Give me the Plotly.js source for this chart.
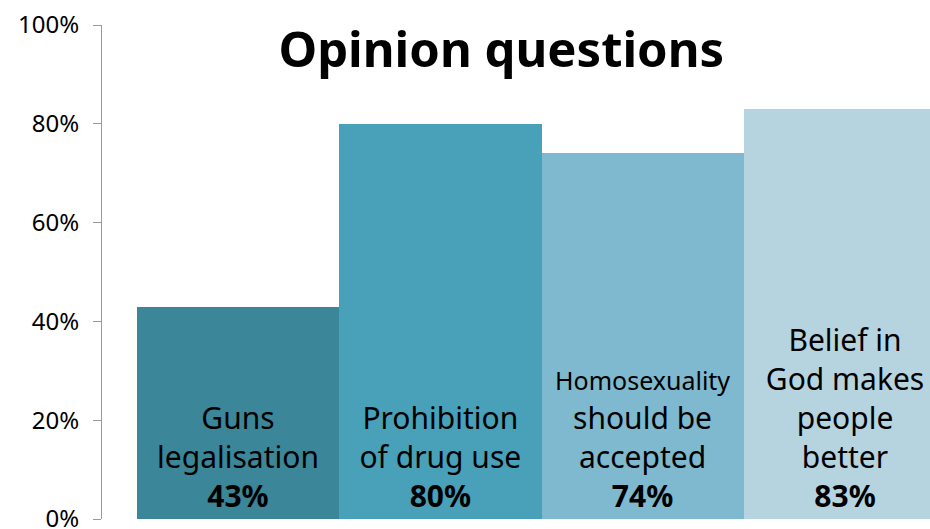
<!DOCTYPE html>
<html>
<head>
<meta charset="utf-8">
<script src="https://cdn.plot.ly/plotly-3.0.1.min.js"></script>
<style>html,body{margin:0;padding:0;background:#fff;}#chart{width:930px;height:529px;}</style>
</head>
<body>
<div id="chart"></div>
<script>
const categories = ["Guns legalisation", "Prohibition of drug use", "Homosexuality should be accepted", "Belief in God makes people better"];
const labelLines = [
  "Guns<br>legalisation",
  "Prohibition<br>of drug use",
  "<span style=\"font-size:25px\">Homosexuality</span><br>should be<br>accepted",
  "Belief in<br>God makes<br>people<br>better"
];
const values = [0.43, 0.80, 0.74, 0.83];
const barColors = ["#3B8699", "#48A1B9", "#7EB9CF", "#B6D4DF"];
const yTicks = [0, 0.2, 0.4, 0.6, 0.8, 1.0];
const yTickText = ["0%", "20%", "40%", "60%", "80%", "100%"];

const texts = values.map((v, i) => labelLines[i] + "<br><b>" + Math.round(v * 100) + "%</b>");

const trace = {
  type: "bar",
  x: categories,
  y: values,
  text: texts,
  textposition: "inside",
  insidetextanchor: "start",
  constraintext: "none",
  textangle: 0,
  textfont: {family: "Noto Sans, Open Sans, sans-serif", size: 30, color: "#000"},
  marker: {color: barColors, line: {width: 0}},
  hoverinfo: "none",
  cliponaxis: true
};

const layout = {
  width: 930, height: 529,
  margin: {l: 102, r: 0, t: 25, b: 10},
  paper_bgcolor: "#fff", plot_bgcolor: "#fff",
  bargap: 0,
  showlegend: false,
  title: {
    text: "<b>Opinion questions</b>",
    font: {family: "Noto Sans, Open Sans, sans-serif", size: 49, color: "#000"},
    x: 0.539, xref: "container", xanchor: "center",
    y: 0.905, yref: "container", yanchor: "middle"
  },
  xaxis: {
    type: "category",
    range: [-0.672, 3.42],
    showticklabels: false, showline: false, showgrid: false, zeroline: false, ticks: ""
  },
  yaxis: {
    range: [0, 1],
    tickvals: yTicks, ticktext: yTickText,
    showline: true, linecolor: "#9a9a9a", linewidth: 1,
    ticks: "outside", ticklen: 8, tickcolor: "#9a9a9a",
    ticklabelstandoff: 9,
    showgrid: false, zeroline: false,
    ticklabeloverflow: "allow",
    tickfont: {family: "Noto Sans, Open Sans, sans-serif", size: 24, color: "#000"}
  }
};

Plotly.newPlot("chart", [trace], layout, {displayModeBar: false, staticPlot: true});
</script>
</body>
</html>
